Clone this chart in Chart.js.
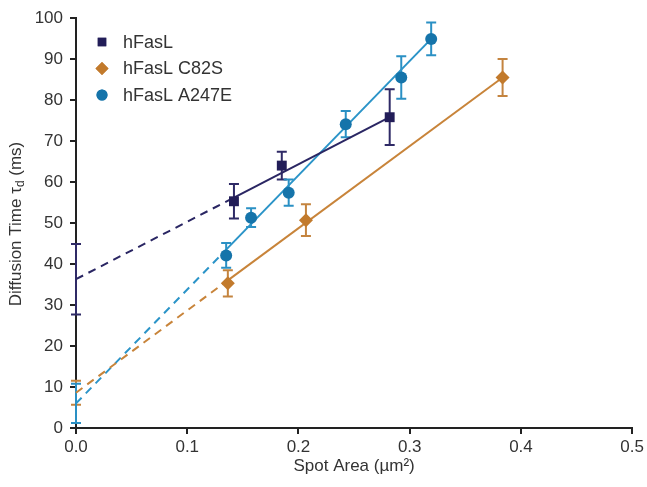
<!DOCTYPE html>
<html>
<head>
<meta charset="utf-8">
<script src="https://cdn.jsdelivr.net/npm/chart.js@4.4.1/dist/chart.umd.min.js"></script>
<style>
  html, body { margin: 0; padding: 0; background: #ffffff; }
  #wrap { width: 647px; height: 487px; }
</style>
</head>
<body>
<div id="wrap"><canvas id="c" width="647" height="487"></canvas></div>
<script>
// ---------- data ----------
const seriesNames = ['hFasL', 'hFasL C82S', 'hFasL A247E'];

const hFasL_x = [0.142, 0.185, 0.282];
const hFasL_y = [55.3, 64.0, 75.8];
const hFasL_err = [4.2, 3.4, 6.8];

const C82S_x = [0.1365, 0.2067, 0.3835];
const C82S_y = [35.3, 50.7, 85.5];
const C82S_err = [3.2, 3.9, 4.5];

const A247E_x = [0.135, 0.1574, 0.1912, 0.2425, 0.2924, 0.3193];
const A247E_y = [42.1, 51.3, 57.4, 74.1, 85.5, 94.9];
const A247E_err = [3.0, 2.3, 3.2, 3.2, 5.2, 4.0];

// fitted lines: intercept at x = 0 (dashed) -> start of fit (solid) -> end of fit
const fitIntercept = [36.3, 8.6, 6.0];
const fitInterceptErr = [8.6, 2.9, 4.8];
const fitStartX = [0.142, 0.1365, 0.135];
const fitStartY = [56.2, 36.0, 43.5];
const fitEndX = [0.282, 0.3835, 0.3193];
const fitEndY = [75.8, 85.5, 94.9];

const xTicks = [0, 0.1, 0.2, 0.3, 0.4, 0.5];
const yTicks = [0, 10, 20, 30, 40, 50, 60, 70, 80, 90, 100];

// ---------- styles ----------
const markerColors = ['#221d58', '#c27a2c', '#1574aa'];
const lineColors = ['#2a2663', '#c8843a', '#2b94c8'];
const errColors = ['#2f2a66', '#c4843f', '#2a90c4'];
const pointStyles = ['rect', 'rectRot', 'circle'];
const pointRadii = [7, 7, 6];
const legendRadii = [6, 6.5, 5.5];

const xs = [hFasL_x, C82S_x, A247E_x];
const ys = [hFasL_y, C82S_y, A247E_y];
const errs = [hFasL_err, C82S_err, A247E_err];

const datasets = [];
for (let i = 0; i < 3; i++) {
  datasets.push({
    label: seriesNames[i] + ' dashed',
    role: 'fit',
    data: [{x: 0, y: fitIntercept[i]}, {x: fitStartX[i], y: fitStartY[i]}],
    showLine: true, borderColor: lineColors[i], borderWidth: 2,
    borderDash: [8, 6], pointRadius: 0, fill: false, clip: false, order: 3
  });
  datasets.push({
    label: seriesNames[i] + ' fit',
    role: 'fit',
    data: [{x: fitStartX[i], y: fitStartY[i]}, {x: fitEndX[i], y: fitEndY[i]}],
    showLine: true, borderColor: lineColors[i], borderWidth: 2,
    pointRadius: 0, fill: false, clip: false, order: 2
  });
}
for (let i = 0; i < 3; i++) {
  datasets.push({
    label: seriesNames[i],
    role: 'points',
    idx: i,
    data: xs[i].map((x, k) => ({x: x, y: ys[i][k]})),
    errors: errs[i],
    showLine: false,
    pointStyle: pointStyles[i],
    pointRadius: pointRadii[i],
    pointBackgroundColor: markerColors[i],
    pointBorderColor: markerColors[i],
    pointBorderWidth: 0,
    clip: false,
    order: 1
  });
}

const FONT = "'Liberation Sans', Arial, sans-serif";
const textColor = '#333333';

function drawErr(ctx, px, py1, py2, color) {
  const cap = 5;
  ctx.save();
  ctx.strokeStyle = color;
  ctx.lineWidth = 2;
  ctx.beginPath();
  ctx.moveTo(px, py1); ctx.lineTo(px, py2);
  ctx.moveTo(px - cap, py1); ctx.lineTo(px + cap, py1);
  ctx.moveTo(px - cap, py2); ctx.lineTo(px + cap, py2);
  ctx.stroke();
  ctx.restore();
}

const errorBarPlugin = {
  id: 'errorBars',
  beforeDatasetsDraw(chart) {
    const ctx = chart.ctx;
    const xS = chart.scales.x, yS = chart.scales.y;
    chart.data.datasets.forEach(ds => {
      if (ds.role !== 'points') return;
      ds.data.forEach((p, k) => {
        const e = ds.errors[k];
        drawErr(ctx, xS.getPixelForValue(p.x), yS.getPixelForValue(p.y + e), yS.getPixelForValue(p.y - e), errColors[ds.idx]);
      });
    });
    for (let i = 0; i < 3; i++) {
      drawErr(ctx, xS.getPixelForValue(0),
        yS.getPixelForValue(fitIntercept[i] + fitInterceptErr[i]),
        yS.getPixelForValue(fitIntercept[i] - fitInterceptErr[i]), errColors[i]);
    }
  }
};

const yTitlePlugin = {
  id: 'yTitle',
  afterDraw(chart) {
    const ctx = chart.ctx;
    ctx.save();
    ctx.translate(16, 224);
    ctx.rotate(-Math.PI / 2);
    ctx.fillStyle = textColor;
    ctx.textBaseline = 'middle';
    const big = '17px ' + FONT, small = '12px ' + FONT;
    const p1 = 'Diffusion Time \u03C4', p2 = 'd', p3 = ' (ms)';
    ctx.font = big; const w1 = ctx.measureText(p1).width; const w3 = ctx.measureText(p3).width;
    ctx.font = small; const w2 = ctx.measureText(p2).width;
    let x = -(w1 + w2 + w3) / 2;
    ctx.font = big; ctx.textAlign = 'left';
    ctx.fillText(p1, x, 0); x += w1;
    ctx.font = small; ctx.fillText(p2, x, 5); x += w2;
    ctx.font = big; ctx.fillText(p3, x, 0);
    ctx.restore();
  }
};

const legendPlugin = {
  id: 'customLegend',
  afterDraw(chart) {
    const ctx = chart.ctx;
    const pts = chart.data.datasets.filter(d => d.role === 'points');
    const x0 = 102, y0 = 42, dy = 26.5;
    pts.forEach((ds, j) => {
      const cy = y0 + j * dy;
      ctx.save();
      ctx.fillStyle = markerColors[ds.idx];
      ctx.strokeStyle = markerColors[ds.idx];
      Chart.helpers.drawPoint(ctx, {pointStyle: pointStyles[ds.idx], radius: legendRadii[ds.idx], borderWidth: 0, rotation: 0}, x0, cy);
      ctx.fill();
      ctx.fillStyle = textColor;
      ctx.font = '18px ' + FONT;
      ctx.textBaseline = 'middle';
      ctx.textAlign = 'left';
      ctx.fillText(ds.label, x0 + 21, cy + 1);
      ctx.restore();
    });
  }
};

new Chart(document.getElementById('c'), {
  type: 'scatter',
  data: { datasets: datasets },
  options: {
    responsive: false,
    animation: false,
    devicePixelRatio: 1,
    layout: { padding: { left: 0, right: 13, top: 18, bottom: 10 } },
    plugins: { legend: { display: false }, tooltip: { enabled: false } },
    scales: {
      x: {
        type: 'linear', min: 0, max: 0.5,
        afterBuildTicks(s) { s.ticks = xTicks.map(v => ({value: v})); },
        afterFit(s) { s.height = 49; },
        ticks: { callback: v => v.toFixed(1), color: textColor, font: {size: 17, family: FONT}, padding: 3, maxRotation: 0 },
        grid: { drawOnChartArea: false, drawTicks: true, tickLength: 6, color: '#222', lineWidth: 2 },
        border: { display: true, color: '#222', width: 2 },
        title: { display: true, text: 'Spot Area (\u00B5m\u00B2)', color: textColor, font: {size: 17, family: FONT}, padding: {top: 0, bottom: 0} }
      },
      y: {
        type: 'linear', min: 0, max: 100,
        afterBuildTicks(s) { s.ticks = yTicks.map(v => ({value: v})); },
        afterFit(s) { s.width = 76; },
        ticks: { color: textColor, font: {size: 17, family: FONT}, padding: 7 },
        grid: { drawOnChartArea: false, drawTicks: true, tickLength: 6, color: '#222', lineWidth: 2 },
        border: { display: true, color: '#222', width: 2 }
      }
    }
  },
  plugins: [errorBarPlugin, yTitlePlugin, legendPlugin]
});
</script>
</body>
</html>
